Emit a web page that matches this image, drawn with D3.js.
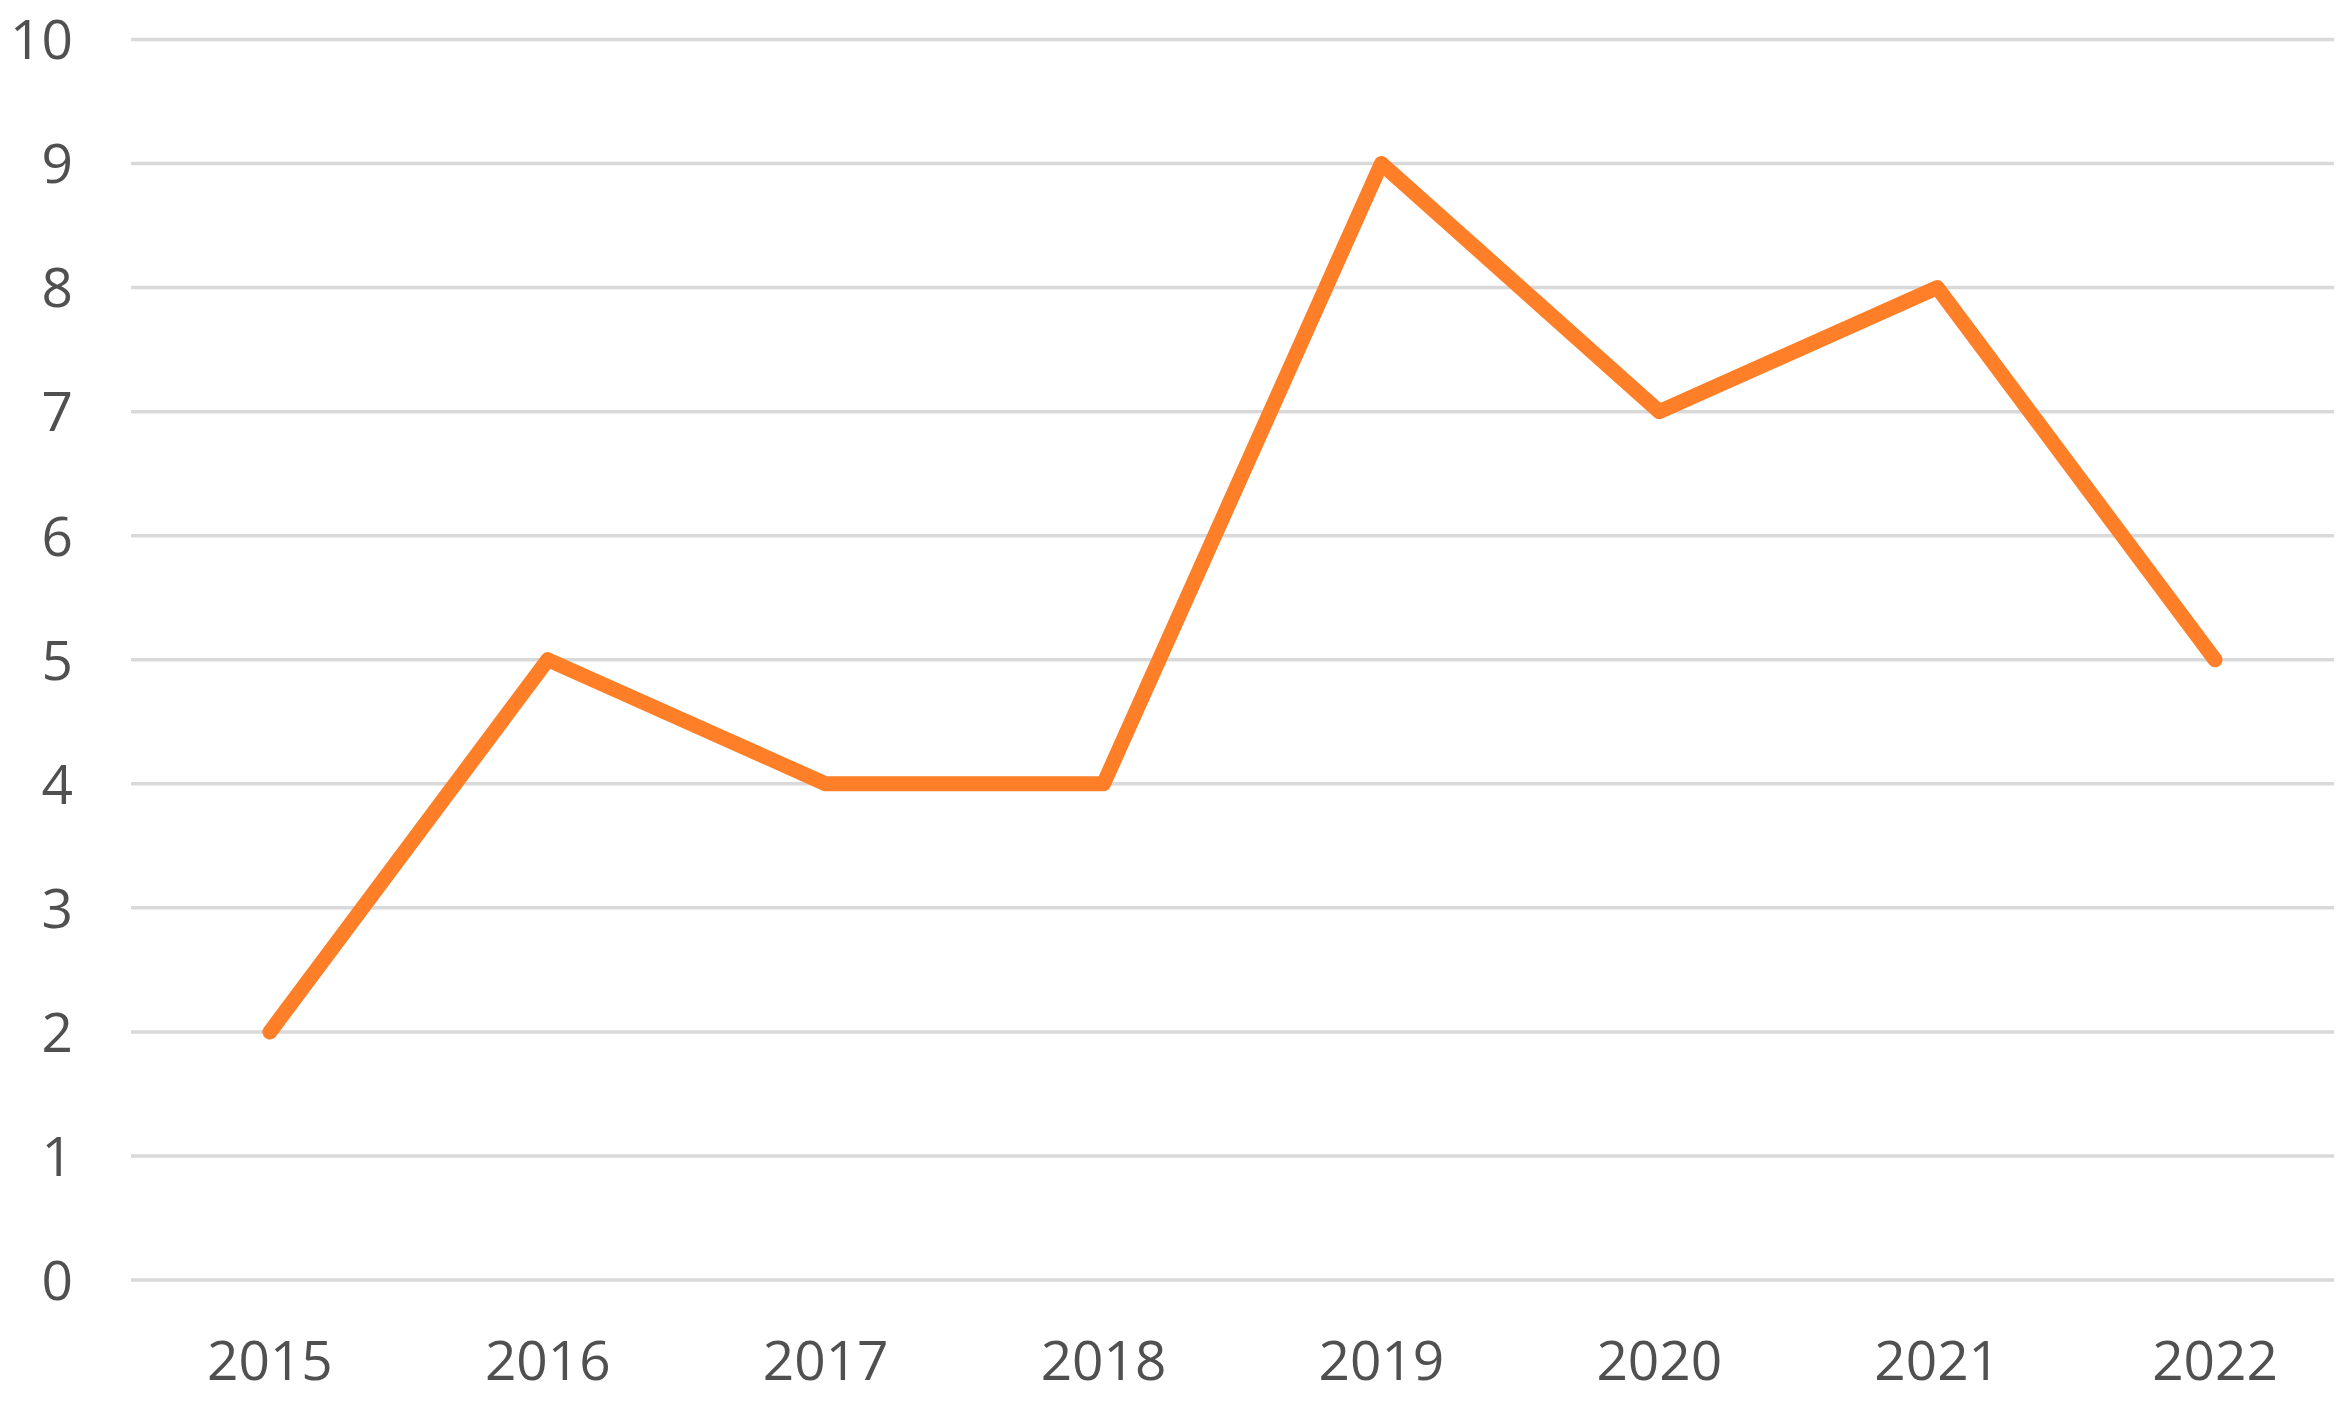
<!DOCTYPE html>
<html>
<head>
<meta charset="utf-8">
<script src="https://cdn.jsdelivr.net/npm/d3@7"></script>
<style>
  html, body { margin: 0; padding: 0; background: #ffffff; }
  svg { display: block; }
</style>
</head>
<body>
<svg id="chart" width="2350" height="1405"></svg>
<script>
const years = ["2015", "2016", "2017", "2018", "2019", "2020", "2021", "2022"];
const values = [2, 5, 4, 4, 9, 7, 8, 5];
const yTicks = [0, 1, 2, 3, 4, 5, 6, 7, 8, 9, 10];

const svg = d3.select("#chart");
const gridLeft = 131, gridRight = 2334;
const plotTop = 39.5, plotBottom = 1280;

const x = d3.scaleBand().domain(years).range([131, 2354]).padding(0);
const y = d3.scaleLinear().domain([0, 10]).range([plotBottom, plotTop]);

const font = "'Open Sans', 'Liberation Sans', sans-serif";

// gridlines
svg.append("g").selectAll("line").data(yTicks).join("line")
  .attr("x1", gridLeft).attr("x2", gridRight)
  .attr("y1", d => y(d)).attr("y2", d => y(d))
  .attr("stroke", "#d9d9d9").attr("stroke-width", 3.5);

// y labels
svg.append("g").selectAll("text").data(yTicks).join("text")
  .attr("x", 73).attr("y", d => y(d))
  .attr("dy", "0.36em")
  .attr("text-anchor", "end")
  .attr("font-family", font).attr("font-size", 55)
  .attr("fill", "#505050")
  .text(d => d);

// x labels
svg.append("g").selectAll("text").data(years).join("text")
  .attr("x", d => x(d) + x.bandwidth() / 2).attr("y", 1380)
  .attr("text-anchor", "middle")
  .attr("font-family", font).attr("font-size", 55)
  .attr("fill", "#505050")
  .text(d => d);

// line
const line = d3.line()
  .x((d, i) => x(years[i]) + x.bandwidth() / 2)
  .y(d => y(d));

svg.append("path").datum(values)
  .attr("d", line)
  .attr("fill", "none")
  .attr("stroke", "#fe7f27")
  .attr("stroke-width", 15)
  .attr("stroke-linejoin", "round")
  .attr("stroke-linecap", "round");
</script>
</body>
</html>
